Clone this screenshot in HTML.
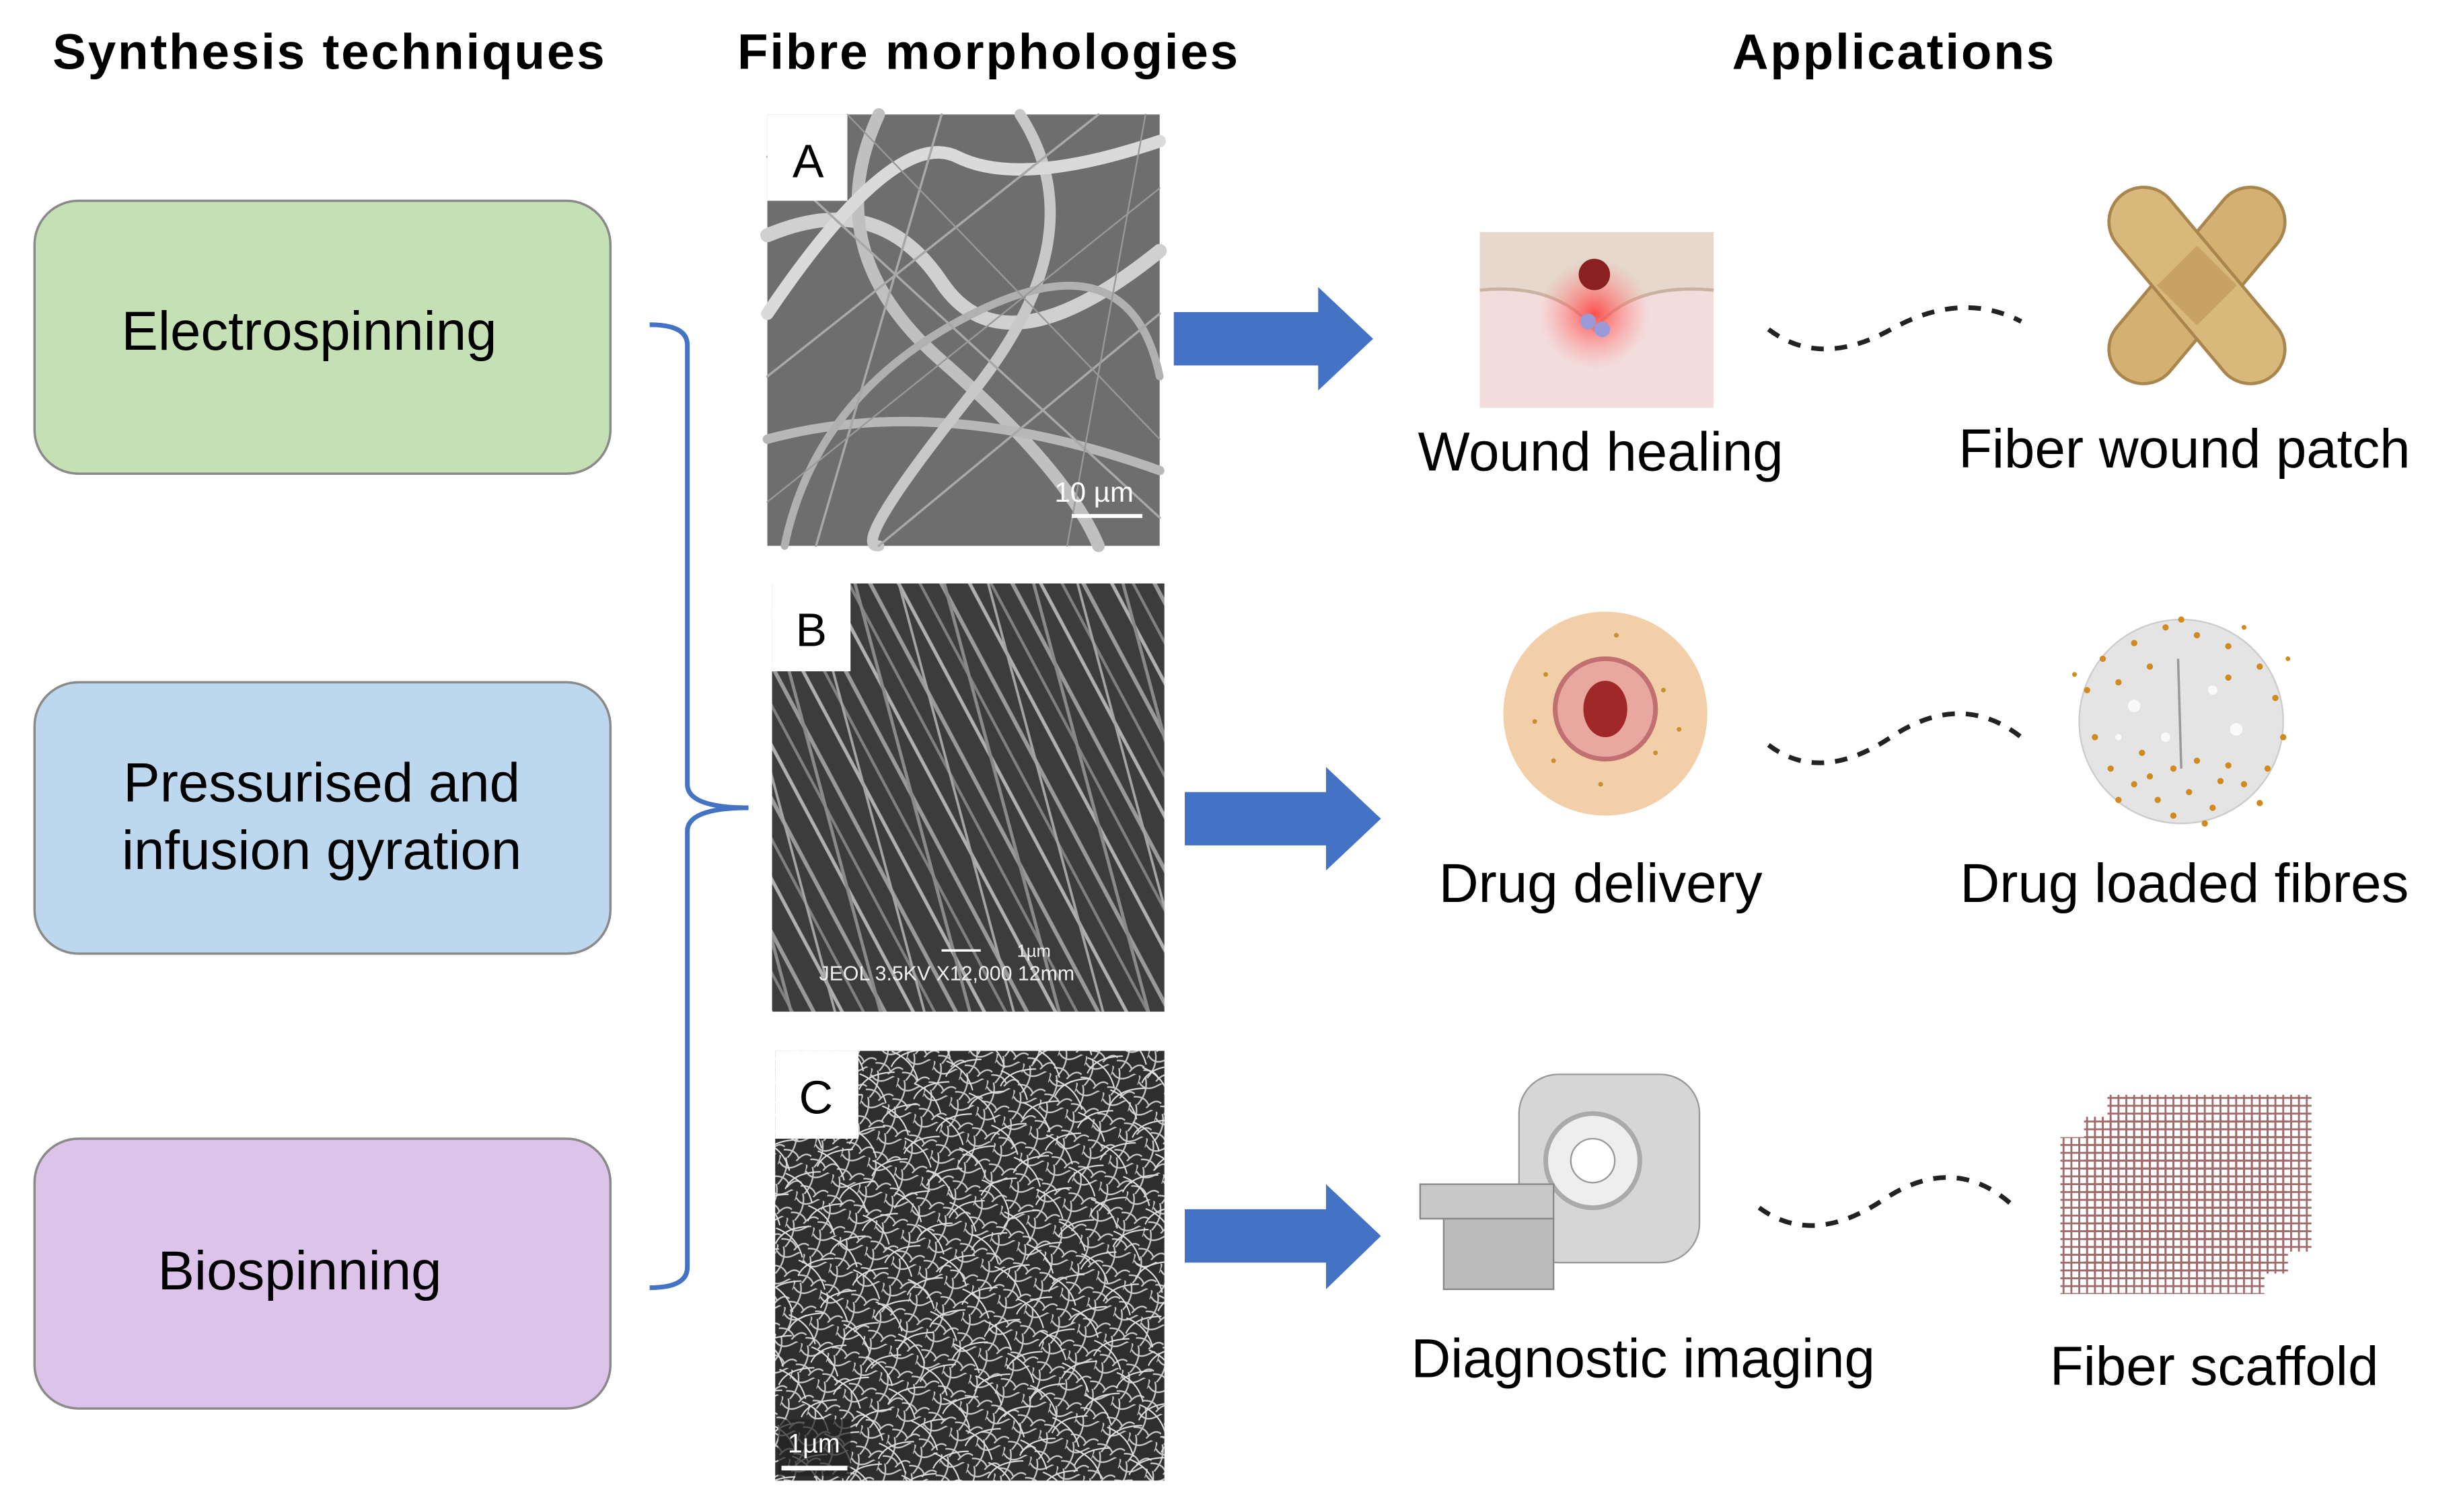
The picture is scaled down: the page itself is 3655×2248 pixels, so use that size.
<!DOCTYPE html>
<html><head><meta charset="utf-8"><style>
html,body{margin:0;padding:0;background:#fff;}
svg{display:block;}
text{font-family:"Liberation Sans",sans-serif;}
</style></head><body>
<svg width="3655" height="2248" viewBox="0 0 1567 964" preserveAspectRatio="none" xmlns="http://www.w3.org/2000/svg">
<defs>
<pattern id="pb" width="40" height="40" patternUnits="userSpaceOnUse" patternTransform="rotate(62)">
<rect width="40" height="40" fill="#3c3c3c"/>
<line x1="0" y1="5" x2="40" y2="5" stroke="#9a9a9a" stroke-width="2.5"/>
<line x1="0" y1="17" x2="40" y2="17" stroke="#808080" stroke-width="1.8"/>
<line x1="0" y1="29" x2="40" y2="29" stroke="#b0b0b0" stroke-width="2.2"/>
</pattern>
<pattern id="pb2" width="55" height="55" patternUnits="userSpaceOnUse" patternTransform="rotate(75)">
<line x1="0" y1="10" x2="55" y2="10" stroke="#8a8a8a" stroke-width="2"/>
<line x1="0" y1="38" x2="55" y2="38" stroke="#a5a5a5" stroke-width="1.6"/>
</pattern>
<pattern id="pc" width="18" height="18" patternUnits="userSpaceOnUse" patternTransform="rotate(20)">
<rect width="18" height="18" fill="#2e2e2e"/>
<path d="M0 4 Q6 9 12 2 T18 6 M3 0 Q8 8 4 18 M10 18 Q13 10 18 12 M0 14 Q7 11 11 16" stroke="#c8c8c8" stroke-width="1" fill="none"/>
</pattern>
<pattern id="pc2" width="25" height="25" patternUnits="userSpaceOnUse" patternTransform="rotate(-35)">
<path d="M0 8 Q10 2 25 12 M6 0 Q14 12 9 25" stroke="#e0e0e0" stroke-width="0.9" fill="none"/>
</pattern>
<pattern id="grid" width="5" height="5" patternUnits="userSpaceOnUse">
<rect width="5" height="5" fill="none" stroke="#a06a6a" stroke-width="1.2"/>
</pattern>
<radialGradient id="red"><stop offset="0" stop-color="#ff4040" stop-opacity="0.9"/><stop offset="1" stop-color="#ff8080" stop-opacity="0"/></radialGradient>
</defs>

<text x="210" y="44" font-size="32" font-weight="bold" letter-spacing="1.2" text-anchor="middle">Synthesis techniques</text>
<text x="630" y="44" font-size="32" font-weight="bold" letter-spacing="1.2" text-anchor="middle">Fibre morphologies</text>
<text x="1207" y="44" font-size="32" font-weight="bold" letter-spacing="1.2" text-anchor="middle">Applications</text>

<rect x="22" y="128" width="367" height="174" rx="28" fill="#c5e0b4" stroke="#8a8a8a" stroke-width="1.5"/>
<text x="197" y="223" font-size="35" text-anchor="middle">Electrospinning</text>
<rect x="22" y="435" width="367" height="173" rx="28" fill="#bdd7ee" stroke="#8a8a8a" stroke-width="1.5"/>
<text x="205" y="511" font-size="35" text-anchor="middle">Pressurised and</text>
<text x="205" y="554" font-size="35" text-anchor="middle">infusion gyration</text>
<rect x="22" y="726" width="367" height="172" rx="28" fill="#dcc3ea" stroke="#8a8a8a" stroke-width="1.5"/>
<text x="191" y="822" font-size="35" text-anchor="middle">Biospinning</text>

<path d="M414 207 Q438 207 438 220 L438 500 Q438 515 477 515 Q438 515 438 530 L438 808 Q438 821 414 821" fill="none" stroke="#4472c4" stroke-width="3"/>

<rect x="489" y="73" width="250" height="275" fill="#6e6e6e"/>
<g fill="none" stroke-linecap="round">
<path d="M489 150 Q560 120 600 180 T739 160" stroke="#d0d0d0" stroke-width="9"/>
<path d="M560 73 Q520 160 600 230 T700 348" stroke="#c0c0c0" stroke-width="8"/>
<path d="M489 280 Q600 250 739 300" stroke="#b8b8b8" stroke-width="6"/>
<path d="M650 73 Q700 150 620 250 T560 348" stroke="#c8c8c8" stroke-width="7"/>
<path d="M739 90 Q650 120 610 100 T489 200" stroke="#dadada" stroke-width="8"/>
<path d="M500 348 Q520 250 620 200 T739 240" stroke="#b0b0b0" stroke-width="5"/>
<path d="M489 100 L739 330 M600 73 L520 348 M739 200 L560 348 M489 240 L700 73" stroke="#a8a8a8" stroke-width="1.5"/>
<path d="M489 320 L739 120 M540 73 L739 280 M680 348 L730 73" stroke="#999" stroke-width="1"/>
</g>
<rect x="489" y="73" width="51" height="55" fill="#fff"/>
<text x="515" y="113" font-size="30" text-anchor="middle">A</text>
<text x="672" y="320" font-size="18" fill="#fff" font-family="Liberation Serif">10 µm</text>
<line x1="683" y1="329" x2="728" y2="329" stroke="#fff" stroke-width="2.5"/>

<rect x="492" y="372" width="250" height="273" fill="url(#pb)"/>
<rect x="492" y="372" width="250" height="273" fill="url(#pb2)"/>
<rect x="492" y="372" width="50" height="56" fill="#fff"/>
<text x="517" y="412" font-size="30" text-anchor="middle">B</text>
<text x="522" y="625" font-size="13" fill="#eee" font-family="Liberation Mono">JEOL 3.5KV  X12,000 12mm</text>
<line x1="600" y1="606" x2="625" y2="606" stroke="#fff" stroke-width="1.5"/>
<text x="648" y="610" font-size="11" fill="#eee" font-family="Liberation Mono">1µm</text>

<rect x="494" y="670" width="248" height="274" fill="url(#pc)"/>
<rect x="494" y="670" width="248" height="274" fill="url(#pc2)"/>
<rect x="494" y="670" width="53" height="56" fill="#fff"/>
<text x="520" y="710" font-size="30" text-anchor="middle">C</text>
<rect x="496" y="905" width="46" height="36" fill="#222" opacity="0.7"/>
<text x="502" y="926" font-size="17" fill="#fff" font-family="Liberation Serif">1µm</text>
<line x1="498" y1="936" x2="540" y2="936" stroke="#fff" stroke-width="3"/>

<path d="M748 199 L840 199 L840 183 L875 216 L840 249 L840 233 L748 233 Z" fill="#4472c4"/>
<path d="M755 505 L845 505 L845 489 L880 522 L845 555 L845 539 L755 539 Z" fill="#4472c4"/>
<path d="M755 771 L845 771 L845 755 L880 788 L845 822 L845 805 L755 805 Z" fill="#4472c4"/>

<rect x="943" y="148" width="149" height="112" fill="#f3dcdc"/>
<path d="M943 148 L1092 148 L1092 185 Q1040 180 1016 210 Q992 180 943 185 Z" fill="#e6d8cc"/>
<path d="M943 185 Q992 180 1016 210 Q1040 180 1092 185" fill="none" stroke="#c9b2a0" stroke-width="2"/>
<circle cx="1016" cy="200" r="35" fill="url(#red)"/>
<circle cx="1016" cy="175" r="10" fill="#8a2020"/>
<circle cx="1012" cy="205" r="5" fill="#9a9ad8"/><circle cx="1021" cy="210" r="5" fill="#9a9ad8"/>

<g transform="translate(1400 182)">
<rect x="-22" y="-75" width="44" height="150" rx="22" fill="#d4b073" stroke="#a8864e" stroke-width="2" transform="rotate(40)"/>
<rect x="-22" y="-75" width="44" height="150" rx="22" fill="#d9b87c" stroke="#a8864e" stroke-width="2" transform="rotate(-40)"/>
<rect x="-18" y="-18" width="36" height="36" fill="#c8a264" transform="rotate(45)"/>
</g>

<circle cx="1023" cy="455" r="65" fill="#f2cfa8"/>
<circle cx="1023" cy="452" r="32" fill="#e8a8a0" stroke="#c07070" stroke-width="3"/>
<ellipse cx="1023" cy="452" rx="14" ry="18" fill="#a02828"/>
<g fill="#c8902c"><circle cx="985" cy="430" r="1.5"/><circle cx="1060" cy="440" r="1.5"/><circle cx="990" cy="485" r="1.5"/><circle cx="1055" cy="480" r="1.5"/><circle cx="1030" cy="405" r="1.5"/><circle cx="1070" cy="465" r="1.5"/><circle cx="978" cy="460" r="1.5"/><circle cx="1020" cy="500" r="1.5"/></g>

<circle cx="1390" cy="460" r="65" fill="#e4e4e4" stroke="#ccc"/>
<g fill="#fff" opacity="0.8"><circle cx="1360" cy="450" r="4"/><circle cx="1410" cy="440" r="3"/><circle cx="1380" cy="470" r="3"/><circle cx="1425" cy="465" r="4"/><circle cx="1350" cy="470" r="2"/></g>
<g fill="#d08a20">
<circle cx="1340" cy="420" r="2"/><circle cx="1360" cy="410" r="2"/><circle cx="1380" cy="400" r="2"/><circle cx="1400" cy="405" r="2"/><circle cx="1420" cy="412" r="2"/><circle cx="1440" cy="425" r="2"/><circle cx="1330" cy="440" r="2"/><circle cx="1350" cy="435" r="2"/><circle cx="1370" cy="425" r="2"/><circle cx="1420" cy="432" r="2"/><circle cx="1450" cy="445" r="2"/><circle cx="1345" cy="490" r="2"/><circle cx="1360" cy="500" r="2"/><circle cx="1375" cy="510" r="2"/><circle cx="1395" cy="505" r="2"/><circle cx="1410" cy="515" r="2"/><circle cx="1430" cy="500" r="2"/><circle cx="1445" cy="490" r="2"/><circle cx="1385" cy="490" r="2"/><circle cx="1400" cy="485" r="2"/><circle cx="1365" cy="480" r="2"/><circle cx="1420" cy="488" r="2"/><circle cx="1335" cy="470" r="2"/><circle cx="1455" cy="470" r="2"/><circle cx="1390" cy="395" r="2"/><circle cx="1405" cy="525" r="2"/>
<circle cx="1322" cy="430" r="1.5"/><circle cx="1458" cy="420" r="1.5"/><circle cx="1350" cy="510" r="2"/><circle cx="1440" cy="512" r="2"/><circle cx="1385" cy="520" r="2"/><circle cx="1415" cy="498" r="2"/><circle cx="1370" cy="495" r="2"/><circle cx="1430" cy="400" r="1.5"/>
</g>
<line x1="1388" y1="420" x2="1390" y2="490" stroke="#999" stroke-width="1.5"/>

<rect x="968" y="685" width="115" height="120" rx="25" fill="#d6d6d6" stroke="#999"/>
<circle cx="1015" cy="740" r="30" fill="#eee" stroke="#aaa" stroke-width="3"/>
<circle cx="1015" cy="740" r="14" fill="#fff" stroke="#999"/>
<rect x="905" y="755" width="85" height="22" fill="#c8c8c8" stroke="#888"/>
<rect x="920" y="777" width="70" height="45" fill="#bbb" stroke="#888"/>

<rect x="1313" y="725" width="130" height="100" fill="url(#grid)"/>
<rect x="1328" y="712" width="130" height="100" fill="url(#grid)"/>
<rect x="1343" y="698" width="130" height="100" fill="url(#grid)"/>

<g fill="none" stroke="#222" stroke-width="3" stroke-dasharray="8 7">
<path d="M1127 210 Q1160 235 1205 210 T1288 205"/>
<path d="M1127 475 Q1160 500 1205 470 T1288 470"/>
<path d="M1121 770 Q1155 795 1200 765 T1282 768"/>
</g>

<text x="1020" y="300" font-size="35" text-anchor="middle">Wound healing</text>
<text x="1392" y="298" font-size="35" text-anchor="middle">Fiber wound patch</text>
<text x="1020" y="575" font-size="35" text-anchor="middle">Drug delivery</text>
<text x="1392" y="575" font-size="35" text-anchor="middle">Drug loaded fibres</text>
<text x="1047" y="878" font-size="35" text-anchor="middle">Diagnostic imaging</text>
<text x="1411" y="883" font-size="35" text-anchor="middle">Fiber scaffold</text>
</svg>
</body></html>
